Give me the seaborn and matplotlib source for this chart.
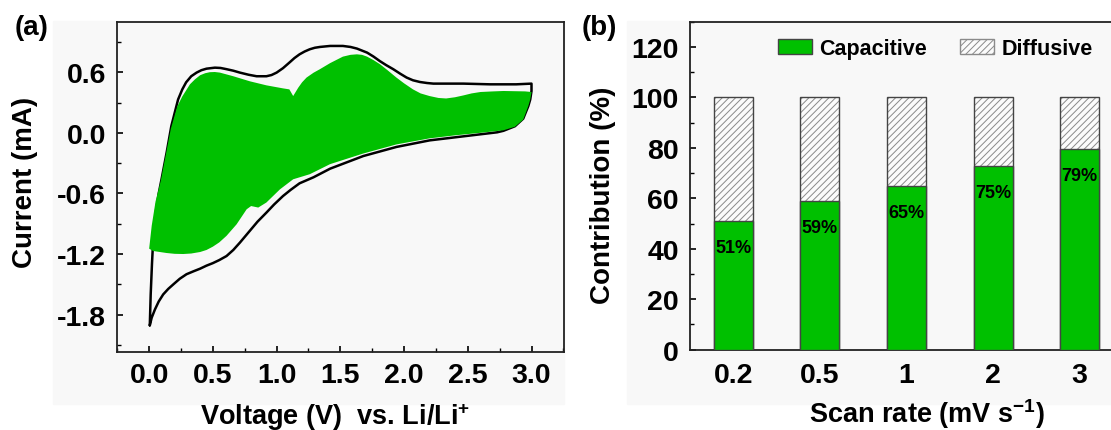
import numpy as np
import pandas as pd
import matplotlib
matplotlib.use("Agg")
import matplotlib.pyplot as plt
import seaborn as sns
from matplotlib.patches import Patch, Rectangle
from matplotlib.ticker import MultipleLocator

# ---------------- data: panel (a) CV curve (V vs. Li/Li+, mA) ----------------
cv_anodic_v = [0.005, 0.012, 0.022, 0.03, 0.05, 0.075, 0.097, 0.137, 0.174, 0.227, 0.26, 0.29,
               0.33, 0.372, 0.41, 0.45, 0.516, 0.56, 0.607, 0.66, 0.712, 0.78, 0.843, 0.92,
               0.96, 1.0, 1.05, 1.10, 1.14, 1.18, 1.22, 1.26, 1.30, 1.34, 1.42, 1.52, 1.58,
               1.63, 1.71, 1.76, 1.81, 1.86, 1.915, 1.97, 2.02, 2.07, 2.125, 2.18, 2.23,
               2.465, 2.675, 2.88, 3.0]
cv_anodic_i = [-1.906, -1.6, -1.3, -1.1, -0.8, -0.6, -0.46, -0.196, 0.067, 0.33, 0.43, 0.50,
               0.56, 0.596, 0.62, 0.635, 0.645, 0.642, 0.63, 0.615, 0.596, 0.575, 0.56, 0.56,
               0.572, 0.596, 0.64, 0.695, 0.74, 0.777, 0.805, 0.827, 0.842, 0.85, 0.86, 0.86,
               0.85, 0.834, 0.794, 0.755, 0.71, 0.67, 0.63, 0.585, 0.547, 0.52, 0.503, 0.493,
               0.487, 0.487, 0.48, 0.48, 0.487]
cv_cathodic_v = [3.0, 2.99, 2.975, 2.935, 2.87, 2.78, 2.73, 2.465, 2.20, 1.94, 1.68, 1.42,
                 1.29, 1.18, 1.11, 1.05, 0.98, 0.92, 0.85, 0.79, 0.712, 0.66, 0.607, 0.55,
                 0.50, 0.45, 0.40, 0.35, 0.293, 0.24, 0.19, 0.15, 0.11, 0.075, 0.045, 0.02,
                 0.005]
cv_cathodic_i = [0.414, 0.33, 0.265, 0.14, 0.065, 0.02, 0.005, -0.035, -0.075, -0.14, -0.23,
                 -0.355, -0.44, -0.50, -0.565, -0.626, -0.71, -0.79, -0.88, -0.97, -1.087,
                 -1.16, -1.22, -1.26, -1.29, -1.315, -1.345, -1.37, -1.40, -1.445, -1.50,
                 -1.545, -1.60, -1.67, -1.75, -1.83, -1.906]

# capacitive contribution region (upper and lower boundaries)
cap_top_v = [0.0, 0.02, 0.05, 0.09, 0.13, 0.17, 0.22, 0.26, 0.32, 0.36, 0.40, 0.44, 0.476,
             0.515, 0.555, 0.66, 0.79, 0.92, 1.05, 1.10, 1.13, 1.17, 1.20, 1.235, 1.29,
             1.34, 1.42, 1.52, 1.58, 1.63, 1.67, 1.71, 1.76, 1.81, 1.87, 1.94, 2.0, 2.07,
             2.13, 2.20, 2.27, 2.33, 2.40, 2.465, 2.53, 2.6, 2.7, 2.78, 2.95, 3.0]
cap_top_i = [-1.147, -0.92, -0.68, -0.48, -0.22, 0.04, 0.26, 0.36, 0.48, 0.53, 0.57, 0.59,
             0.60, 0.602, 0.596, 0.56, 0.51, 0.47, 0.44, 0.43, 0.364, 0.447, 0.50, 0.547,
             0.595, 0.63, 0.69, 0.754, 0.772, 0.777, 0.772, 0.754, 0.72, 0.68, 0.62, 0.547,
             0.49, 0.43, 0.39, 0.364, 0.345, 0.34, 0.352, 0.37, 0.39, 0.404, 0.41, 0.414,
             0.41, 0.404]
cap_bot_v = [3.0, 2.99, 2.975, 2.935, 2.87, 2.78, 2.6, 2.40, 2.20, 1.94, 1.68, 1.42, 1.34,
             1.26, 1.13, 1.026, 0.92, 0.856, 0.80, 0.765, 0.686, 0.607, 0.55, 0.50, 0.45,
             0.40, 0.33, 0.267, 0.20, 0.137, 0.031, 0.0]
cap_bot_i = [0.404, 0.33, 0.265, 0.13, 0.06, 0.025, 0.0, -0.025, -0.055, -0.115, -0.205,
             -0.31, -0.36, -0.41, -0.46, -0.56, -0.69, -0.74, -0.725, -0.757, -0.906, -1.02,
             -1.085, -1.127, -1.16, -1.18, -1.195, -1.20, -1.198, -1.19, -1.17, -1.147]

# ---------------- data: panel (b) contributions ----------------
scan_rates = ["0.2", "0.5", "1", "2", "3"]
capacitive = [51, 59, 65, 73, 79.5]
total = [100, 100, 100, 100, 100]
cap_labels = ["51%", "59%", "65%", "75%", "79%"]

# ---------------- style ----------------
sns.set_theme(style="ticks")
plt.rcParams["font.family"] = ["Liberation Sans", "DejaVu Sans"]
plt.rcParams["font.weight"] = "bold"
plt.rcParams["text.color"] = "black"
plt.rcParams["xtick.color"] = "black"
plt.rcParams["ytick.color"] = "black"
plt.rcParams["mathtext.fontset"] = "custom"
plt.rcParams["mathtext.rm"] = "Liberation Sans:bold"
plt.rcParams["mathtext.it"] = "Liberation Sans:bold"
plt.rcParams["mathtext.bf"] = "Liberation Sans:bold"
plt.rcParams["hatch.linewidth"] = 0.7

GREEN = "#00c000"
BG = "#f8f8f8"
W, H = 1111, 431

fig = plt.figure(figsize=(W / 100, H / 100), dpi=100)
fig.patch.set_facecolor("white")
fig.patches.append(Rectangle((53 / W, 1 - 405 / H), (564 - 53) / W, (405 - 22) / H,
                             transform=fig.transFigure, color=BG, zorder=-5))
fig.patches.append(Rectangle((627 / W, 1 - 405 / H), (W - 627) / W, (405 - 22) / H,
                             transform=fig.transFigure, color=BG, zorder=-5))

ax1 = fig.add_axes([117.3 / W, 1 - 353 / H, (564 - 117.3) / W, (353 - 22.7) / H])
ax2 = fig.add_axes([690 / W, 1 - 350.7 / H, (1123 - 690) / W, (350.7 - 22.7) / H])

for ax in (ax1, ax2):
    ax.set_facecolor(BG)
    for s in ax.spines.values():
        s.set_linewidth(1.3)
        s.set_color("#222222")
    ax.tick_params(which="both", direction="in", labelsize=20.5, colors="black")
    ax.tick_params(which="major", length=4.5, width=1.2)
    ax.tick_params(which="minor", length=3, width=1.0)

# ---------------- panel (a) ----------------
cv_df = pd.DataFrame({
    "v": cv_anodic_v + cv_cathodic_v,
    "i": cv_anodic_i + cv_cathodic_i,
})
sns.lineplot(data=cv_df, x="v", y="i", sort=False, estimator=None, color="black",
             linewidth=1.8, ax=ax1, zorder=2)
ax1.fill(cap_top_v + cap_bot_v, cap_top_i + cap_bot_i, color=GREEN, lw=0, zorder=3)

ax1.set_xlim(-0.25, 3.255)
ax1.set_ylim(-2.17, 1.1)
ax1.set_xticks([0, 0.5, 1.0, 1.5, 2.0, 2.5, 3.0])
ax1.set_xticklabels(["0.0", "0.5", "1.0", "1.5", "2.0", "2.5", "3.0"])
ax1.xaxis.set_minor_locator(MultipleLocator(0.25))
ax1.set_yticks([-1.8, -1.2, -0.6, 0.0, 0.6])
ax1.set_yticklabels(["-1.8", "-1.2", "-0.6", "0.0", "0.6"])
ax1.yaxis.set_minor_locator(MultipleLocator(0.3))
ax1.tick_params(axis="x", pad=7)
ax1.tick_params(axis="y", pad=8)
ax1.set_xlabel("")
ax1.set_ylabel("")

# ---------------- panel (b) ----------------
bar_df = pd.DataFrame({"rate": scan_rates, "total": total, "cap": capacitive})
# diffusive part: hatched background bar (grey hatch) + dark outline
sns.barplot(data=bar_df, x="rate", y="total", order=scan_rates, color="#fbfbfb",
            saturation=1, width=0.45, edgecolor="#8a8a8a", linewidth=0.0,
            hatch="/////", ax=ax2, zorder=2)
sns.barplot(data=bar_df, x="rate", y="total", order=scan_rates, color="#444444",
            saturation=1, width=0.45, fill=False, linewidth=1.0, ax=ax2, zorder=2.5)
# capacitive part
sns.barplot(data=bar_df, x="rate", y="cap", order=scan_rates, color=GREEN,
            saturation=1, width=0.45, edgecolor="#444444", linewidth=1.0,
            ax=ax2, zorder=3)
for k, (val, lab) in enumerate(zip(capacitive, cap_labels)):
    ax2.text(k, val - 10.5, lab, ha="center", va="center", fontsize=13,
             fontweight="bold", color="black", zorder=4)

ax2.set_xlim(-0.5, 4.5)
ax2.set_ylim(0, 130)
ax2.set_yticks([0, 20, 40, 60, 80, 100, 120])
ax2.yaxis.set_minor_locator(MultipleLocator(10))
ax2.tick_params(axis="x", which="both", length=0, pad=9)
ax2.tick_params(axis="y", pad=8)
ax2.set_xlabel("")
ax2.set_ylabel("")

handles = [Patch(facecolor=GREEN, edgecolor="#444444", linewidth=1.0, label="Capacitive"),
           Patch(facecolor="#fbfbfb", edgecolor="#8a8a8a", linewidth=1.0, hatch="/////",
                 label="Diffusive")]
fig.legend(handles=handles, loc="center left", bbox_to_anchor=(777.8 / W, 1 - 49.5 / H),
           bbox_transform=fig.transFigure, ncol=2, frameon=False,
           handlelength=1.58, handleheight=0.72, handletextpad=0.36, columnspacing=1.5,
           borderpad=0, borderaxespad=0, prop={"weight": "bold", "size": 15.5})

# ---------------- labels ----------------
fig.text(25 / W, 1 - 182 / H, "Current (mA)", rotation=90, ha="center", va="center",
         fontsize=20, fontweight="bold")
fig.text(335 / W, 1 - 417 / H, r"Voltage (V)  vs. Li/Li$^{+}$", ha="center", va="center",
         fontsize=19.5, fontweight="bold")
fig.text(603 / W, 1 - 195 / H, "Contribution (%)", rotation=90, ha="center", va="center",
         fontsize=20, fontweight="bold")
fig.text(927 / W, 1 - 414 / H, r"Scan rate (mV s$^{-1}$)", ha="center", va="center",
         fontsize=19.5, fontweight="bold")
fig.text(15 / W, 1 - 28 / H, "(a)", ha="left", va="center", fontsize=20, fontweight="bold")
fig.text(582 / W, 1 - 28 / H, "(b)", ha="left", va="center", fontsize=20, fontweight="bold")

fig.savefig("out.png", dpi=100)
